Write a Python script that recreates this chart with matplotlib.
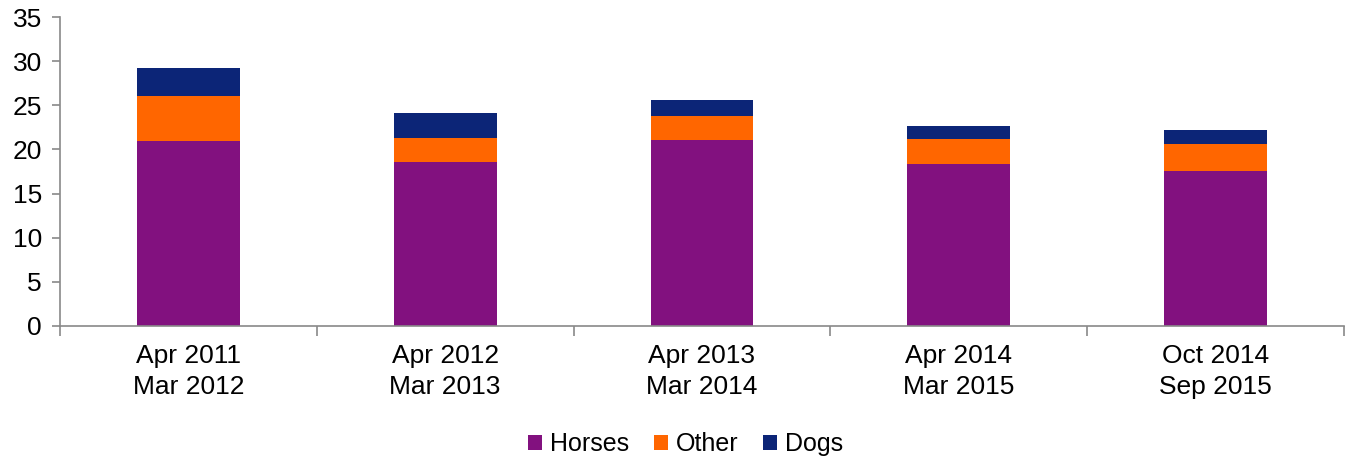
import matplotlib.pyplot as plt
import numpy as np

plt.rcParams['font.family'] = ['Liberation Sans', 'DejaVu Sans']

periods = ['Apr 2011\nMar 2012', 'Apr 2012\nMar 2013', 'Apr 2013\nMar 2014',
           'Apr 2014\nMar 2015', 'Oct 2014\nSep 2015']
horses = [21.0, 18.6, 21.1, 18.3, 17.55]
other = [5.1, 2.7, 2.65, 2.85, 3.05]
dogs = [3.15, 2.85, 1.85, 1.55, 1.55]

fig = plt.figure(figsize=(13.5, 4.62), dpi=100)
ax = fig.add_axes([0.0444, 0.2944, 0.9512, 0.6688])

x = np.arange(len(periods))
w = 0.4
ax.bar(x, horses, w, color='#82117F', label='Horses')
ax.bar(x, other, w, bottom=horses, color='#FF6600', label='Other')
bottom2 = np.array(horses) + np.array(other)
ax.bar(x, dogs, w, bottom=bottom2, color='#0C2577', label='Dogs')

ax.set_xlim(-0.5, len(periods) - 0.5)
ax.set_ylim(0, 35)
ax.set_yticks(range(0, 36, 5))

# category labels sit between the boundary ticks
ax.set_xticks(np.arange(-0.5, len(periods), 1.0))
ax.set_xticklabels([])
ax.set_xticks(x, minor=True)
ax.set_xticklabels(periods, minor=True, linespacing=1.35)
ax.tick_params(axis='x', which='minor', length=0, pad=13, labelsize=19)
ax.tick_params(axis='x', which='major', length=7, width=1.2, color='#898989')
ax.tick_params(axis='y', length=6, width=1.2, color='#898989', labelsize=19, pad=7)

for s in ['top', 'right']:
    ax.spines[s].set_visible(False)
for s in ['left', 'bottom']:
    ax.spines[s].set_color('#898989')
    ax.spines[s].set_linewidth(1.2)

fig.legend(loc='center', bbox_to_anchor=(685.5 / 1350, 1 - 444 / 462), ncol=3,
           frameon=False, fontsize=18, handlelength=0.56, handleheight=0.56,
           handletextpad=0.3, columnspacing=1.0)

fig.savefig('out.png', dpi=100)
